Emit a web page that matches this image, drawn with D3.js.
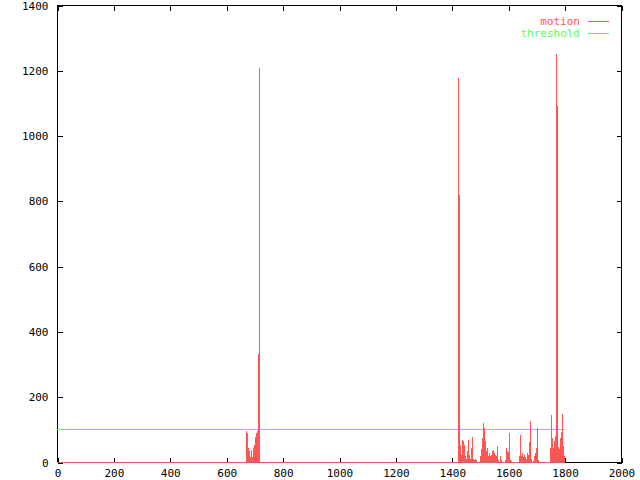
<!DOCTYPE html>
<html>
<head>
<meta charset="utf-8">
<script src="https://cdn.jsdelivr.net/npm/d3@7"></script>
<style>
  html, body { margin: 0; padding: 0; background: #fff; }
  svg text { font-family: "DejaVu Sans Mono", "Liberation Mono", monospace; font-size: 11px; }
</style>
</head>
<body>
<svg id="chart" width="640" height="480"></svg>
<script>
// ---- data ----
const xTicks = [0, 200, 400, 600, 800, 1000, 1200, 1400, 1600, 1800, 2000];
const yTicks = [0, 200, 400, 600, 800, 1000, 1200, 1400];
const seriesNames = ["motion", "threshold"];
const lastFrame = 1801;
const thresholdValue = 100;
// non-zero motion samples (frame, value); all other frames are 0
const motionFrames = [
  670, 674, 677, 681, 684, 688, 691, 695, 699, 702, 706, 709, 713, 716,
  1422, 1426, 1429, 1433, 1436, 1440, 1443, 1447, 1450, 1454, 1457, 1461, 1465, 1468, 1472, 1475, 1479, 1482, 1486,
  1500, 1504, 1507, 1511, 1514, 1518, 1521, 1525, 1528, 1532, 1535, 1539, 1543, 1546, 1550, 1553, 1557, 1560, 1564,
  1571, 1574, 1589, 1592, 1596, 1599, 1603, 1606, 1610,
  1638, 1642, 1645, 1649, 1652, 1656, 1660, 1663, 1667, 1670, 1674, 1677, 1681, 1688, 1692, 1695, 1699, 1702, 1706,
  1748, 1752, 1755, 1759, 1762, 1766, 1770, 1773, 1777, 1780, 1784, 1787, 1791, 1794, 1798, 1801
];
const motionValues = [
  96, 89, 44, 33, 16, 36, 16, 44, 53, 78, 90, 94, 332, 1206,
  1177, 818, 53, 22, 68, 63, 53, 17, 10, 33, 68, 22, 10, 44, 78, 10, 5, 10, 5,
  17, 41, 75, 120, 105, 63, 33, 44, 17, 28, 17, 22, 33, 36, 28, 22, 19, 48, 5,
  17, 5, 5, 44, 33, 30, 90, 5, 3,
  17, 84, 17, 28, 14, 22, 14, 10, 28, 22, 61, 125, 10, 3, 17, 28, 44, 105, 5,
  44, 145, 75, 44, 63, 80, 1250, 1090, 47, 41, 75, 93, 148, 48, 17
];

// ---- layout ----
const svg = d3.select("#chart");
const pLeft = 57, pRight = 621, pTop = 5, pBottom = 462;
const x = d3.scaleLinear().domain([0, 2000]).range([pLeft, pRight]);
const y = d3.scaleLinear().domain([0, 1400]).range([pBottom, pTop]);
const red = "#ff5555", green = "#55ff55";

// border
svg.append("rect").attr("x", pLeft + 0.5).attr("y", pTop + 0.5)
  .attr("width", pRight - pLeft).attr("height", pBottom - pTop)
  .attr("fill", "none").attr("stroke", "#000").attr("shape-rendering", "crispEdges");

// axes with inward ticks (mirrored)
const axB = d3.axisBottom(x).tickValues(xTicks).tickSize(-5).tickPadding(7).tickFormat(d3.format("d"));
const axT = d3.axisTop(x).tickValues(xTicks).tickSize(-5).tickFormat("");
const axL = d3.axisLeft(y).tickValues(yTicks).tickSize(-5).tickPadding(9).tickFormat(d3.format("d"));
const axR = d3.axisRight(y).tickValues(yTicks).tickSize(-5).tickFormat("");
function style(g) {
  g.select(".domain").remove();
  g.selectAll("line").attr("stroke", "#000").attr("shape-rendering", "crispEdges");
  g.selectAll("text").attr("fill", "#000").style("font-family", "'DejaVu Sans Mono', monospace").style("font-size", "11px");
}
svg.append("g").attr("transform", `translate(0.5,${pBottom + 0.5})`).call(axB).call(style);
svg.append("g").attr("transform", `translate(0.5,${pTop + 0.5})`).call(axT).call(style);
svg.append("g").attr("transform", `translate(${pLeft + 0.5},0.5)`).call(axL).call(style);
svg.append("g").attr("transform", `translate(${pRight + 0.5},0.5)`).call(axR).call(style);

// threshold line
svg.append("path")
  .attr("d", d3.line()([[x(0), Math.round(y(thresholdValue)) + 0.5], [x(lastFrame), Math.round(y(thresholdValue)) + 0.5]]))
  .attr("stroke", green).attr("stroke-width", 1).attr("fill", "none").attr("shape-rendering", "crispEdges");

// motion baseline (zero-valued frames)
svg.append("path")
  .attr("d", d3.line()([[x(0), pBottom + 0.5], [x(lastFrame), pBottom + 0.5]]))
  .attr("stroke", red).attr("stroke-width", 1).attr("fill", "none").attr("shape-rendering", "crispEdges");

// motion impulses
const motion = motionFrames.map((f, i) => ({ f, v: motionValues[i] }));
svg.append("g").selectAll("rect").data(motion).join("rect")
  .attr("x", d => Math.round(x(d.f)))
  .attr("y", d => Math.round(y(d.v)))
  .attr("width", 1)
  .attr("height", d => pBottom + 1 - Math.round(y(d.v)))
  .attr("fill", red).attr("shape-rendering", "crispEdges");

// legend
const legend = svg.append("g");
[[seriesNames[0], red, 21], [seriesNames[1], green, 33]].forEach(([name, col, ly]) => {
  legend.append("text").attr("x", 580).attr("y", ly).attr("dy", "0.35em")
    .attr("text-anchor", "end").attr("fill", col).text(name);
  legend.append("line").attr("x1", 588).attr("x2", 609).attr("y1", ly + 0.5).attr("y2", ly + 0.5)
    .attr("stroke", col).attr("shape-rendering", "crispEdges");
});
</script>
</body>
</html>
